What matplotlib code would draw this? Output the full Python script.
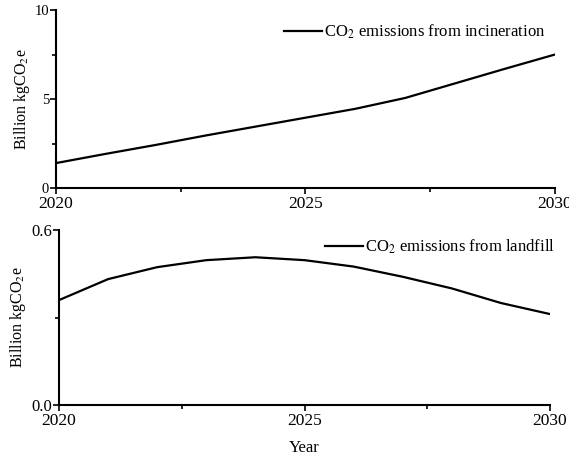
import matplotlib
matplotlib.use("Agg")
import matplotlib.pyplot as plt
from matplotlib.ticker import MultipleLocator

plt.rcParams['font.family'] = ['Liberation Serif', 'DejaVu Serif']
plt.rcParams['mathtext.fontset'] = 'stix'

# data
years = [2020, 2021, 2022, 2023, 2024, 2025, 2026, 2027, 2028, 2029, 2030]
incineration = [1.40, 1.92, 2.42, 2.95, 3.45, 3.95, 4.45, 5.06, 5.88, 6.70, 7.50]
landfill = [0.36, 0.432, 0.473, 0.497, 0.507, 0.497, 0.475, 0.440, 0.400, 0.350, 0.312]

ylabel = "Billion kgCO$_2$e"

fig = plt.figure(figsize=(5.69, 4.59), dpi=100)
ax1 = fig.add_axes([0.0984, 0.5904, 0.877, 0.3878])
ax2 = fig.add_axes([0.1037, 0.1176, 0.863, 0.381])

ax1.plot(years, incineration, color='black', lw=1.6,
         label="CO$_2$ emissions from incineration")
ax1.set_ylim(0, 10)
ax1.set_yticks([0, 5, 10])
ax1.yaxis.set_minor_locator(MultipleLocator(2.5))
ax1.tick_params(axis='y', which='major', labelsize=10.5)
ax1.legend(loc='upper right', bbox_to_anchor=(0.98, 0.93), frameon=False,
           fontsize=12, handlelength=2.3, handletextpad=0.1,
           borderaxespad=0, borderpad=0)

ax2.plot(years, landfill, color='black', lw=1.6,
         label="CO$_2$ emissions from landfill")
ax2.set_ylim(0, 0.6)
ax2.set_yticks([0.0, 0.6])
ax2.set_yticklabels(["0.0", "0.6"])
ax2.yaxis.set_minor_locator(MultipleLocator(0.3))
ax2.tick_params(axis='y', which='major', labelsize=12)
ax2.set_xlabel("Year", fontsize=12, labelpad=8)
ax2.legend(loc='upper right', bbox_to_anchor=(1.01, 0.955), frameon=False,
           fontsize=12, handlelength=2.3, handletextpad=0.1,
           borderaxespad=0, borderpad=0)

for ax in (ax1, ax2):
    ax.set_xlim(2020, 2030)
    ax.set_xticks([2020, 2025, 2030])
    ax.xaxis.set_minor_locator(MultipleLocator(2.5))
    ax.spines['top'].set_visible(False)
    ax.spines['right'].set_visible(False)
    ax.spines['left'].set_linewidth(1.5)
    ax.spines['bottom'].set_linewidth(1.5)
    ax.tick_params(axis='x', which='major', labelsize=12.5, length=4, width=1.2, pad=2)
    ax.tick_params(axis='y', which='major', length=4, width=1.2, pad=1)
    ax.tick_params(which='minor', length=3, width=1.2)
    ax.set_ylabel(ylabel, fontsize=11.5, labelpad=2)

fig.savefig("out.png", dpi=100)
